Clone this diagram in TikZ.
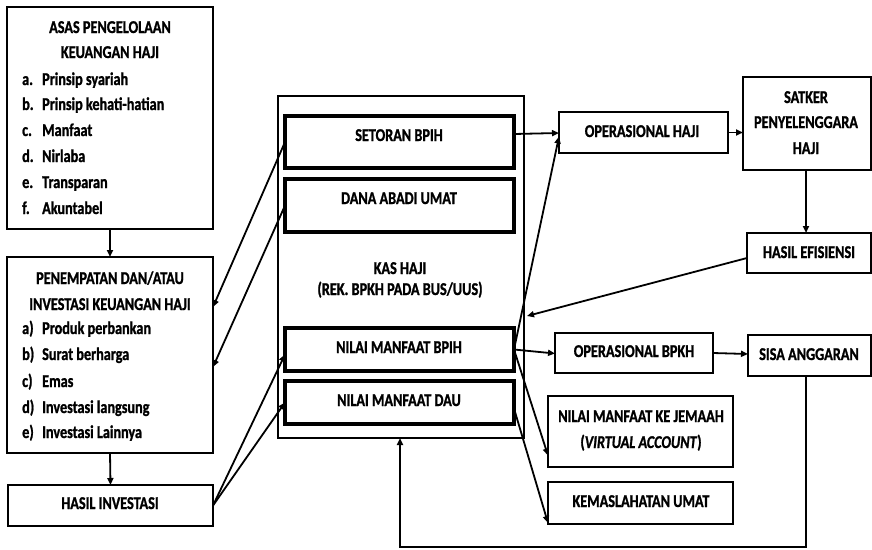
\documentclass[tikz,border=0pt]{standalone}
\usepackage{fontspec}
\setmainfont[FakeStretch=0.79, BoldFeatures={FakeBold=1.2}, BoldItalicFeatures={FakeBold=1.2}]{Carlito}
\usetikzlibrary{arrows.meta}
\begin{document}
\begin{tikzpicture}[x=1pt,y=-1pt,
  box/.style={draw, line width=2.6pt, inner sep=0pt, outer sep=0pt, anchor=north west},
  inbox/.style={box, line width=3.6pt},
  kasbox/.style={box, line width=2.2pt},
  conn/.style={line width=1.8pt, -{Triangle[length=7pt,width=6pt]}},
  lbl/.style={inner sep=0pt, anchor=base, font=\bfseries\fontsize{18}{22}\selectfont},
  lft/.style={lbl, anchor=base west}]
\useasboundingbox (0,0) rectangle (872,549);
% boxes
\node[box, minimum width=206pt, minimum height=222pt] (asas) at (7,7) {};
\node[box, minimum width=206pt, minimum height=196pt] (penem) at (7,257) {};
\node[box, minimum width=205pt, minimum height=41pt] (hasinv) at (8,485) {};
\node[kasbox, minimum width=246pt, minimum height=342pt] (kas) at (278,96) {};
\node[inbox, minimum width=229pt, minimum height=52pt] (setoran) at (285,116) {};
\node[inbox, minimum width=229pt, minimum height=53pt] (dana) at (285,179) {};
\node[inbox, minimum width=229pt, minimum height=43pt] (nmb) at (285,328) {};
\node[inbox, minimum width=229pt, minimum height=43pt] (nmd) at (285,381) {};
\node[box, minimum width=169pt, minimum height=41pt] (ophaji) at (559,112) {};
\node[box, minimum width=128pt, minimum height=93pt] (satker) at (743,77) {};
\node[box, minimum width=124pt, minimum height=40pt] (hef) at (747,233) {};
\node[box, minimum width=158pt, minimum height=40pt] (opbpkh) at (555,333) {};
\node[box, minimum width=123pt, minimum height=41pt] (sisa) at (748,335) {};
\node[box, minimum width=185pt, minimum height=71pt] (jemaah) at (548,396) {};
\node[box, minimum width=185pt, minimum height=42pt] (kemas) at (548,482) {};
% texts
\node[lbl] (t1) at (110,33) {ASAS PENGELOLAAN};
\node[lbl] (t2) at (110,58) {KEUANGAN HAJI};
\node[lft] (a1) at (22,85) {a.}; \node[lft] (a1t) at (42,85) {Prinsip syariah};
\node[lft] (a2) at (22,110) {b.}; \node[lft] (a2t) at (42,110) {Prinsip kehati-hatian};
\node[lft] (a3) at (22,136) {c.}; \node[lft] (a3t) at (42,136) {Manfaat};
\node[lft] (a4) at (22,162) {d.}; \node[lft] (a4t) at (42,162) {Nirlaba};
\node[lft] (a5) at (22,188) {e.}; \node[lft] (a5t) at (42,188) {Transparan};
\node[lft] (a6) at (22,214) {f.}; \node[lft] (a6t) at (42,214) {Akuntabel};
\node[lbl] (t3) at (110,284) {PENEMPATAN DAN/ATAU};
\node[lbl] (t4) at (110,310) {INVESTASI KEUANGAN HAJI};
\node[lft] (b1) at (22,334) {a)}; \node[lft] (b1t) at (42,334) {Produk perbankan};
\node[lft] (b2) at (22,360) {b)}; \node[lft] (b2t) at (42,360) {Surat berharga};
\node[lft] (b3) at (22,387) {c)}; \node[lft] (b3t) at (42,387) {Emas};
\node[lft] (b4) at (22,413) {d)}; \node[lft] (b4t) at (42,413) {Investasi langsung};
\node[lft] (b5) at (22,438) {e)}; \node[lft] (b5t) at (42,438) {Investasi Lainnya};
\node[lbl] (t5) at (110,509) {HASIL INVESTASI};
\node[lbl] (t6) at (400,274) {KAS HAJI};
\node[lbl] (t7) at (400,295) {(REK. BPKH PADA BUS/UUS)};
\node[lbl] (t8) at (399,141) {SETORAN BPIH};
\node[lbl] (t9) at (399,204) {DANA ABADI UMAT};
\node[lbl] (t10) at (399,353) {NILAI MANFAAT BPIH};
\node[lbl] (t11) at (399,406) {NILAI MANFAAT DAU};
\node[lbl] (t12) at (642,137) {OPERASIONAL HAJI};
\node[lbl] (t13) at (806,103) {SATKER};
\node[lbl] (t14) at (806,128) {PENYELENGGARA};
\node[lbl] (t15) at (806,154) {HAJI};
\node[lbl] (t16) at (809,258) {HASIL EFISIENSI};
\node[lbl] (t17) at (634,357) {OPERASIONAL BPKH};
\node[lbl] (t18) at (809,360) {SISA ANGGARAN};
\node[lbl] (t19) at (641,422) {NILAI MANFAAT KE JEMAAH};
\node[lbl] (t20) at (641,448) {(\textit{VIRTUAL ACCOUNT})};
\node[lbl] (t21) at (641,507) {KEMASLAHATAN UMAT};
% connectors
\coordinate (loop) at (400,547);
\draw[conn] (asas.south) -- (penem.north);
\draw[conn] (penem.south) -- (hasinv.north);
\draw[conn] (setoran.west) -- ([yshift=48pt]penem.east);
\draw[conn] (dana.west) -- ([yshift=-12pt]penem.east);
\draw[conn] (hasinv.east) -- ([yshift=-5pt]nmb.west);
\draw[conn] (hasinv.east) -- (nmd.west);
\draw[conn] ([yshift=8pt]setoran.east) -- ([yshift=-0.5pt]ophaji.west);
\draw[conn] (nmb.east) -- ([yshift=-4pt]ophaji.west);
\draw[conn] (ophaji.east) -- (ophaji.east -| satker.west);
\draw[conn] ([xshift=-1pt]satker.south) -- ([xshift=-1pt]satker.south |- hef.north);
\draw[conn] ([yshift=-5pt]hef.west) -- ([xshift=3pt,yshift=-49pt]kas.east);
\draw[conn] (nmb.east) -- ([yshift=-0.5pt]opbpkh.west);
\draw[conn] (opbpkh.east) -- ([yshift=-1pt]opbpkh.east -| sisa.west);
\draw[conn] (nmb.east) -- ([yshift=-24pt]jemaah.west);
\draw[conn] ([yshift=-6pt]nmd.east) -- ([yshift=-20pt]kemas.west);
\draw[conn] ([xshift=-3.5pt]sisa.south) |- (loop) -- (loop |- kas.south);
\end{tikzpicture}
\end{document}
